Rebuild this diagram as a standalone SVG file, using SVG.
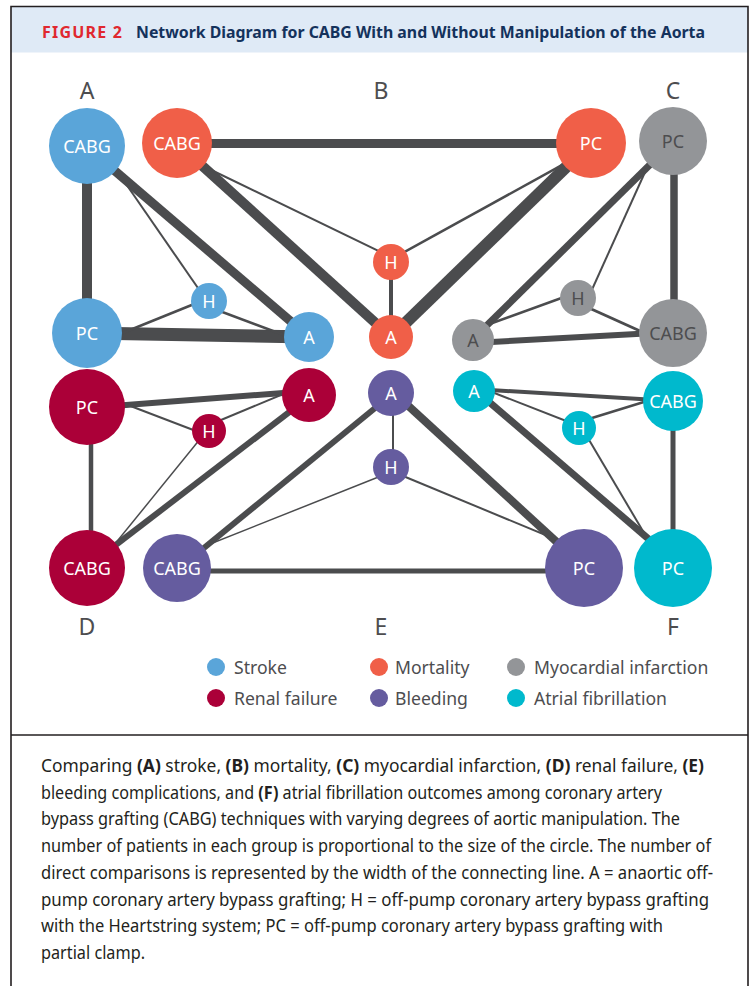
<svg xmlns="http://www.w3.org/2000/svg" width="756" height="986" viewBox="0 0 756 986">
<style>
.e{stroke:#4b4c4e;stroke-linecap:butt;fill:none}
.lbl{font-family:"Noto Sans","Open Sans",sans-serif;font-size:18px;fill:#fff;text-anchor:middle}
.dk{fill:#4d4d4f}
.let{font-family:"Noto Sans","Open Sans",sans-serif;font-size:23px;fill:#4d4d4f;text-anchor:middle}
.leg{font-family:"Noto Sans","Open Sans",sans-serif;font-size:17.6px;fill:#4d4d4f}
.cap{font-family:"Noto Sans","Open Sans",sans-serif;font-size:17.2px;fill:#231f20}
.b{font-weight:bold}
.stroke{fill:#5aa5d9}.mort{fill:#f05f48}.mi{fill:#939598}.renal{fill:#ab0038}.bleed{fill:#655c9f}.af{fill:#00b9cd}
</style>
<rect x="0" y="0" width="756" height="986" fill="#fff"/>
<rect x="11" y="6.5" width="737" height="46" fill="#dfeaf6"/>
<path d="M11,986 V6.5 H748 V986" fill="none" stroke="#231f20" stroke-width="1.6"/>
<line x1="11" y1="735" x2="748" y2="735" stroke="#231f20" stroke-width="1.6"/>
<text x="42" y="37.5" font-family="'Noto Sans','Open Sans',sans-serif" font-size="16" font-weight="bold" fill="#e0282f" textLength="80" lengthAdjust="spacing">FIGURE 2</text>
<text x="136" y="37.5" font-family="'Noto Sans','Open Sans',sans-serif" font-size="16" font-weight="bold" fill="#14325c" textLength="569" lengthAdjust="spacingAndGlyphs">Network Diagram for CABG With and Without Manipulation of the Aorta</text>

<g id="group-letters">
<text class="let" x="87" y="99">A</text>
<text class="let" x="381" y="99">B</text>
<text class="let" x="673" y="99">C</text>
<text class="let" x="87" y="635">D</text>
<text class="let" x="381" y="635">E</text>
<text class="let" x="673" y="635">F</text>
</g>

<g id="connectors">
<!-- A stroke -->
<line class="e" x1="87" y1="147" x2="87" y2="333" stroke-width="10"/>
<line class="e" x1="87" y1="147" x2="309" y2="337" stroke-width="9"/>
<line class="e" x1="115" y1="168" x2="209" y2="304" stroke-width="2"/>
<line class="e" x1="87" y1="333" x2="309" y2="337" stroke-width="13"/>
<line class="e" x1="120" y1="334" x2="209" y2="298" stroke-width="2.5"/>
<line class="e" x1="209" y1="307" x2="300" y2="341" stroke-width="2.5"/>
<!-- B mortality -->
<line class="e" x1="177" y1="143.5" x2="591" y2="143.5" stroke-width="9"/>
<line class="e" x1="177" y1="143" x2="391" y2="337" stroke-width="10"/>
<line class="e" x1="203" y1="166" x2="391" y2="257" stroke-width="2"/>
<line class="e" x1="570" y1="160.6" x2="391" y2="259.4" stroke-width="2.5"/>
<line class="e" x1="591" y1="143" x2="391" y2="337" stroke-width="12"/>
<line class="e" x1="391" y1="262" x2="391" y2="337" stroke-width="4"/>
<!-- C MI -->
<line class="e" x1="674" y1="141" x2="674" y2="333" stroke-width="7.5"/>
<line class="e" x1="673" y1="142" x2="473" y2="339" stroke-width="7"/>
<line class="e" x1="655" y1="150" x2="590" y2="294" stroke-width="2"/>
<line class="e" x1="473" y1="330" x2="578" y2="292" stroke-width="2.5"/>
<line class="e" x1="473" y1="343" x2="673" y2="332" stroke-width="6"/>
<line class="e" x1="578" y1="303" x2="660" y2="340" stroke-width="3"/>
<!-- D renal -->
<line class="e" x1="87" y1="408" x2="309" y2="391" stroke-width="6"/>
<line class="e" x1="120" y1="402" x2="209" y2="436" stroke-width="2"/>
<line class="e" x1="209" y1="425" x2="300" y2="387" stroke-width="2"/>
<line class="e" x1="91" y1="407" x2="91" y2="568" stroke-width="4.5"/>
<line class="e" x1="110" y1="550" x2="209" y2="428" stroke-width="1.5"/>
<line class="e" x1="87" y1="567" x2="309" y2="397" stroke-width="6"/>
<!-- E bleeding -->
<line class="e" x1="177" y1="570" x2="391" y2="395" stroke-width="6"/>
<line class="e" x1="185" y1="554" x2="391" y2="472" stroke-width="1.5"/>
<line class="e" x1="177" y1="571" x2="584" y2="571" stroke-width="5"/>
<line class="e" x1="393" y1="392" x2="393" y2="466" stroke-width="2"/>
<line class="e" x1="391" y1="390" x2="584" y2="567" stroke-width="8"/>
<line class="e" x1="391" y1="471" x2="584" y2="551" stroke-width="2"/>
<!-- F AF -->
<line class="e" x1="474" y1="389" x2="673" y2="401" stroke-width="4"/>
<line class="e" x1="474" y1="385" x2="579" y2="426" stroke-width="2"/>
<line class="e" x1="579" y1="422" x2="660" y2="397" stroke-width="2.5"/>
<line class="e" x1="474" y1="389" x2="673" y2="560" stroke-width="7"/>
<line class="e" x1="582" y1="428" x2="660" y2="560" stroke-width="2"/>
<line class="e" x1="673" y1="401" x2="673" y2="568" stroke-width="5"/>
</g>

<!-- A stroke nodes -->
<g id="A-CABG"><circle class="stroke" cx="87" cy="146" r="38"/><text class="lbl" x="87" y="152.5">CABG</text></g>
<g id="A-PC"><circle class="stroke" cx="87" cy="333" r="35"/><text class="lbl" x="87" y="339.5">PC</text></g>
<g id="A-H"><circle class="stroke" cx="209" cy="301" r="18"/><text class="lbl" x="209" y="307.5">H</text></g>
<g id="A-A"><circle class="stroke" cx="309" cy="337" r="25"/><text class="lbl" x="309" y="343.5">A</text></g>
<!-- B mortality nodes -->
<g id="B-CABG"><circle class="mort" cx="177" cy="143" r="35"/><text class="lbl" x="177" y="149.5">CABG</text></g>
<g id="B-PC"><circle class="mort" cx="591" cy="143" r="35"/><text class="lbl" x="591" y="149.5">PC</text></g>
<g id="B-H"><circle class="mort" cx="391" cy="262" r="18"/><text class="lbl" x="391" y="268.5">H</text></g>
<g id="B-A"><circle class="mort" cx="391" cy="337" r="22"/><text class="lbl" x="391" y="343.5">A</text></g>
<!-- C MI nodes -->
<g id="C-PC"><circle class="mi" cx="673" cy="141" r="34"/><text class="lbl dk" x="673" y="147.5">PC</text></g>
<g id="C-CABG"><circle class="mi" cx="673" cy="333" r="34"/><text class="lbl dk" x="673" y="339.5">CABG</text></g>
<g id="C-H"><circle class="mi" cx="578" cy="298" r="18"/><text class="lbl dk" x="578" y="304.5">H</text></g>
<g id="C-A"><circle class="mi" cx="473" cy="340" r="21"/><text class="lbl dk" x="473" y="346.5">A</text></g>
<!-- D renal nodes -->
<g id="D-PC"><circle class="renal" cx="87" cy="407" r="38"/><text class="lbl" x="87" y="413.5">PC</text></g>
<g id="D-A"><circle class="renal" cx="309" cy="395" r="27"/><text class="lbl" x="309" y="401.5">A</text></g>
<g id="D-H"><circle class="renal" cx="209" cy="431" r="17"/><text class="lbl" x="209" y="437.5">H</text></g>
<g id="D-CABG"><circle class="renal" cx="87" cy="568" r="38"/><text class="lbl" x="87" y="574.5">CABG</text></g>
<!-- E bleeding nodes -->
<g id="E-A"><circle class="bleed" cx="391" cy="393" r="23"/><text class="lbl" x="391" y="399.5">A</text></g>
<g id="E-H"><circle class="bleed" cx="391" cy="467" r="18"/><text class="lbl" x="391" y="473.5">H</text></g>
<g id="E-CABG"><circle class="bleed" cx="177" cy="568" r="34"/><text class="lbl" x="177" y="574.5">CABG</text></g>
<g id="E-PC"><circle class="bleed" cx="584" cy="568" r="39"/><text class="lbl" x="584" y="574.5">PC</text></g>
<!-- F AF nodes -->
<g id="F-A"><circle class="af" cx="474" cy="391" r="21"/><text class="lbl" x="474" y="397.5">A</text></g>
<g id="F-H"><circle class="af" cx="579" cy="428" r="17"/><text class="lbl" x="579" y="434.5">H</text></g>
<g id="F-CABG"><circle class="af" cx="673" cy="401" r="30"/><text class="lbl" x="673" y="407.5">CABG</text></g>
<g id="F-PC"><circle class="af" cx="673" cy="568" r="39"/><text class="lbl" x="673" y="574.5">PC</text></g>

<g id="legend">
<circle class="stroke" cx="216" cy="667" r="9"/><text class="leg" x="234" y="673.5">Stroke</text>
<circle class="mort" cx="379" cy="667" r="9"/><text class="leg" x="395" y="673.5">Mortality</text>
<circle class="mi" cx="516" cy="667" r="9"/><text class="leg" x="534" y="673.5">Myocardial infarction</text>
<circle class="renal" cx="216" cy="698" r="9"/><text class="leg" x="234" y="704.5">Renal failure</text>
<circle class="bleed" cx="379" cy="698" r="9"/><text class="leg" x="395" y="704.5">Bleeding</text>
<circle class="af" cx="516" cy="698" r="9"/><text class="leg" x="534" y="704.5">Atrial fibrillation</text>
</g>

<g id="caption">
<text class="cap" x="41" y="772" textLength="663" lengthAdjust="spacingAndGlyphs">Comparing <tspan class="b">(A)</tspan> stroke, <tspan class="b">(B)</tspan> mortality, <tspan class="b">(C)</tspan> myocardial infarction, <tspan class="b">(D)</tspan> renal failure, <tspan class="b">(E)</tspan></text>
<text class="cap" x="41" y="798.7" textLength="621" lengthAdjust="spacingAndGlyphs">bleeding complications, and <tspan class="b">(F)</tspan> atrial fibrillation outcomes among coronary artery</text>
<text class="cap" x="41" y="825.4" textLength="639" lengthAdjust="spacingAndGlyphs">bypass grafting (CABG) techniques with varying degrees of aortic manipulation. The</text>
<text class="cap" x="41" y="852.1" textLength="670" lengthAdjust="spacingAndGlyphs">number of patients in each group is proportional to the size of the circle. The number of</text>
<text class="cap" x="41" y="878.8" textLength="672" lengthAdjust="spacingAndGlyphs">direct comparisons is represented by the width of the connecting line. A = anaortic off-</text>
<text class="cap" x="41" y="905.5" textLength="668" lengthAdjust="spacingAndGlyphs">pump coronary artery bypass grafting; H = off-pump coronary artery bypass grafting</text>
<text class="cap" x="41" y="932.2" textLength="622" lengthAdjust="spacingAndGlyphs">with the Heartstring system; PC = off-pump coronary artery bypass grafting with</text>
<text class="cap" x="41" y="959" textLength="104" lengthAdjust="spacingAndGlyphs">partial clamp.</text>
</g>
</svg>
